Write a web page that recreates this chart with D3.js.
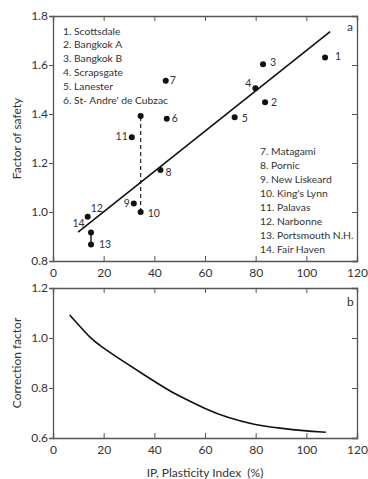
<!DOCTYPE html>
<html><head><meta charset="utf-8">
<script src="https://cdn.jsdelivr.net/npm/d3@7"></script>
<style>
body{margin:0;background:#fff;}
svg{display:block;font-family:Lato,"Open Sans",sans-serif;}
</style></head>
<body>
<svg id="c" width="368" height="479"></svg>
<script>
// ---------- data ----------
const siteNames = ["1. Scottsdale","2. Bangkok A","3. Bangkok B","4. Scrapsgate","5. Lanester","6. St- Andre' de Cubzac"];
const siteNames2 = ["7. Matagami","8. Pornic","9. New Liskeard","10. King's Lynn","11. Palavas","12. Narbonne","13. Portsmouth N.H.","14. Fair Haven"];
const pointIds  = ["1","2","3","4","5","6","7","8","9","10","11","12","13","13b","10b"];
const pointIP   = [107.4,83.7,82.9,79.9,71.7,44.9,44.5,42.4,31.9,34.6,31.1,13.7,15.0,15.0,34.6];
const pointFS   = [1.631,1.448,1.603,1.505,1.387,1.381,1.536,1.171,1.035,1.000,1.305,0.981,0.867,0.916,1.392];
const fitIP = [9.9,109.4];
const fitFS = [0.918,1.736];
const curveIP = [6.6,10.7,14.6,18.6,27.8,37.0,46.2,51.7,59.6,68.8,79.4,89.9,99.1,107.7];
const curveCF = [1.092,1.046,1.002,0.968,0.906,0.846,0.787,0.759,0.719,0.681,0.653,0.639,0.629,0.623];
const xTicks = [0,20,40,60,80,100,120];
const yTicksA = [0.8,1.0,1.2,1.4,1.6,1.8];
const yTicksB = [0.6,0.8,1.0,1.2];

// label placement (style)
const labelPos = {
 "1":{t:"1",dx:10,dy:3,a:"start"},"2":{t:"2",dx:6,dy:4,a:"start"},"3":{t:"3",dx:7,dy:2,a:"start"},
 "4":{t:"4",dx:-4,dy:-1,a:"end"},"5":{t:"5",dx:7,dy:5,a:"start"},"6":{t:"6",dx:5,dy:3,a:"start"},
 "7":{t:"7",dx:4,dy:3,a:"start"},"8":{t:"8",dx:5,dy:6,a:"start"},"9":{t:"9",dx:-4,dy:4,a:"end"},
 "10":{t:"10",dx:7,dy:5,a:"start"},"11":{t:"11",dx:-4,dy:3,a:"end"},"12":{t:"12",dx:3,dy:-5,a:"start"},
 "13":{t:"13",dx:8,dy:3,a:"start"}
};

const svg = d3.select("#c");
const x = d3.scaleLinear().domain([0,120]).range([53,357]);
const yA = d3.scaleLinear().domain([0.8,1.8]).range([261,16]);
const yB = d3.scaleLinear().domain([0.6,1.2]).range([438,288]);
const axisCol = "#555", textCol = "#333";

function frame(y, yt, fmt){
  const [y0,y1] = y.range();
  const g = svg.append("g");
  g.append("g").attr("transform",`translate(0,${y0})`)
    .call(d3.axisBottom(x).tickValues(xTicks).tickSize(-5).tickFormat(d=>d).tickPadding(7));
  g.append("g").attr("transform",`translate(0,${y1})`)
    .call(d3.axisTop(x).tickValues(xTicks).tickSize(-5).tickFormat(""));
  g.append("g").attr("transform",`translate(${x(0)},0)`)
    .call(d3.axisLeft(y).tickValues(yt).tickSize(4).tickFormat(fmt).tickPadding(1));
  g.append("g").attr("transform",`translate(${x(120)},0)`)
    .call(d3.axisRight(y).tickValues(yt).tickSize(-5).tickFormat(""));
  g.selectAll(".domain").attr("stroke",axisCol).attr("stroke-width",1.3);
  g.selectAll(".tick line").attr("stroke",axisCol).attr("stroke-width",1);
  g.selectAll(".tick text").attr("fill",textCol).style("font-size","12px").style("font-family","Lato,sans-serif");
  return g;
}
const fmt1 = d3.format(".1f");
frame(yA, yTicksA, fmt1);
frame(yB, yTicksB, fmt1);

// ---- top plot marks ----
svg.append("path")
  .attr("d", d3.line()(fitIP.map((v,i)=>[x(v),yA(fitFS[i])])))
  .attr("fill","none").attr("stroke","#111").attr("stroke-width",1.6);

const idx = id => pointIds.indexOf(id);
svg.append("line")
  .attr("x1",x(pointIP[idx("10")])).attr("x2",x(pointIP[idx("10b")]))
  .attr("y1",yA(pointFS[idx("10")])).attr("y2",yA(pointFS[idx("10b")]))
  .attr("stroke","#222").attr("stroke-width",1.2).attr("stroke-dasharray","4,3");
svg.append("line")
  .attr("x1",x(pointIP[idx("13")])).attr("x2",x(pointIP[idx("13b")]))
  .attr("y1",yA(pointFS[idx("13")])).attr("y2",yA(pointFS[idx("13b")]))
  .attr("stroke","#111").attr("stroke-width",1.4);

svg.append("g").selectAll("circle").data(pointIds).join("circle")
  .attr("cx",(d,i)=>x(pointIP[i])).attr("cy",(d,i)=>yA(pointFS[i]))
  .attr("r",3).attr("fill","#111");

svg.append("g").selectAll("text").data(pointIds.filter(d=>labelPos[d])).join("text")
  .attr("x",d=>x(pointIP[idx(d)])+labelPos[d].dx)
  .attr("y",d=>yA(pointFS[idx(d)])+labelPos[d].dy)
  .attr("text-anchor",d=>labelPos[d].a)
  .attr("fill",textCol).style("font-size","10.5px")
  .text(d=>labelPos[d].t);
svg.append("text").attr("x",x(pointIP[idx("12")])-3).attr("y",yA(pointFS[idx("12")])+10)
  .attr("text-anchor","end").attr("fill",textCol).style("font-size","10.5px").text("14");

// legends
svg.append("g").selectAll("text").data(siteNames).join("text")
  .attr("x",63).attr("y",(d,i)=>34.5+i*13.8)
  .attr("fill",textCol).style("font-size","10.3px").text(d=>d);
svg.append("g").selectAll("text").data(siteNames2).join("text")
  .attr("x",260).attr("y",(d,i)=>155+i*14.0)
  .attr("fill",textCol).style("font-size","10.3px").text(d=>d);

svg.append("text").attr("x",347).attr("y",31).attr("fill",textCol).style("font-size","12px").text("a");
svg.append("text").attr("x",347).attr("y",306).attr("fill",textCol).style("font-size","12px").text("b");

// ---- bottom curve ----
svg.append("path")
  .attr("d", d3.line().curve(d3.curveBasis)(curveIP.map((v,i)=>[x(v),yB(curveCF[i])])))
  .attr("fill","none").attr("stroke","#111").attr("stroke-width",1.6);

// axis titles
svg.append("text").attr("transform",`translate(21,${(yA.range()[0]+yA.range()[1])/2}) rotate(-90)`)
  .attr("text-anchor","middle").attr("fill",textCol).style("font-size","12px").text("Factor of safety");
svg.append("text").attr("transform",`translate(21,${(yB.range()[0]+yB.range()[1])/2}) rotate(-90)`)
  .attr("text-anchor","middle").attr("fill",textCol).style("font-size","12px").text("Correction factor");
svg.append("text").attr("x",205).attr("y",477).attr("text-anchor","middle").style("white-space","pre")
  .attr("fill",textCol).style("font-size","12px").text("IP, Plasticity Index  (%)");
</script>
</body></html>
